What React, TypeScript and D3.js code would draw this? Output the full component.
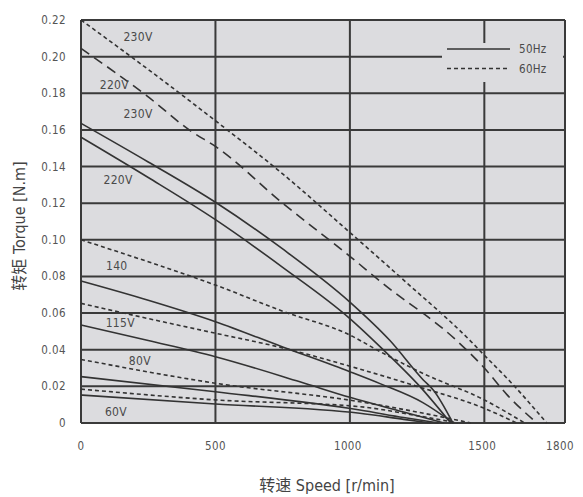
import React from "react";
import * as d3 from "d3";

// ---- data: [speed r/min, torque N.m] ----
const c230v60Hz: [number, number][] = [[0,0.22],[250,0.193],[500,0.165],[750,0.136],[1000,0.104],[1200,0.078],[1447,0.045],[1500,0.037],[1600,0.022],[1732,0]];
const c220v60Hz: [number, number][] = [[0,0.2045],[250,0.178],[412,0.159],[500,0.151],[750,0.12],[1000,0.091],[1124,0.076],[1397,0.045],[1500,0.03],[1584,0.0155],[1695,0]];
const c230v50Hz: [number, number][] = [[0,0.1636],[250,0.1425],[500,0.1205],[750,0.095],[1000,0.066],[1149,0.045],[1273,0.0235],[1310,0.018],[1383,0]];
const c220v50Hz: [number, number][] = [[0,0.156],[250,0.134],[500,0.111],[750,0.085],[1000,0.057],[1112,0.0417],[1260,0.02],[1375,0]];
const c140v60Hz: [number, number][] = [[0,0.1],[250,0.088],[500,0.0753],[750,0.061],[1000,0.048],[1112,0.039],[1273,0.027],[1500,0.0126],[1650,0]];
const c140v50Hz: [number, number][] = [[0,0.0775],[250,0.067],[500,0.0553],[750,0.0415],[1000,0.028],[1112,0.0215],[1273,0.011],[1385,0]];
const c115v60Hz: [number, number][] = [[0,0.0653],[250,0.057],[500,0.049],[750,0.041],[1000,0.031],[1250,0.02],[1500,0.008],[1620,0]];
const c115v50Hz: [number, number][] = [[0,0.0535],[250,0.045],[500,0.0362],[814,0.0225],[1000,0.014],[1200,0.006],[1350,0]];
const c80v60Hz: [number, number][] = [[0,0.0347],[500,0.0217],[1037,0.0116],[1250,0.006],[1450,0]];
const c80v50Hz: [number, number][] = [[0,0.0253],[500,0.0171],[1037,0.0071],[1200,0.003],[1330,0]];
const c60v60Hz: [number, number][] = [[0,0.0185],[500,0.0126],[1037,0.0089],[1250,0.004],[1400,0]];
const c60v50Hz: [number, number][] = [[0,0.0153],[500,0.0104],[1037,0.0053],[1200,0.002],[1300,0]];

const xTicks = [0, 500, 1000, 1500, 1800];
const xTickLabels = ["0", "500", "1000", "1500", "1800"];
const yTicks = [0, 0.02, 0.04, 0.06, 0.08, 0.1, 0.12, 0.14, 0.16, 0.18, 0.2, 0.22];
const yTickLabels = ["0", "0.02", "0.04", "0.06", "0.08", "0.10", "0.12", "0.14", "0.16", "0.18", "0.20", "0.22"];

// voltage labels: [text, speed, torque]
const curveLabels: [string, number, number][] = [
  ["230V", 212, 0.2108],
  ["220V", 124, 0.1845],
  ["230V", 212, 0.1685],
  ["220V", 138, 0.1327],
  ["140", 133, 0.0857],
  ["115V", 146, 0.0548],
  ["80V", 219, 0.0338],
  ["60V", 130, 0.0062],
];

const seriesSolid = [c230v50Hz, c220v50Hz, c140v50Hz, c115v50Hz, c80v50Hz, c60v50Hz];
const seriesShortDash = [c230v60Hz, c140v60Hz, c115v60Hz, c80v60Hz, c60v60Hz];
const seriesLongDash = [c220v60Hz];

const legendItems = ["50Hz", "60Hz"];

export default function App() {
  const W = 583, H = 497;
  const left = 81, right = 565, top = 20, bottom = 423;
  const x = d3.scaleLinear().domain([0, 1800]).range([left, right]);
  const y = d3.scaleLinear().domain([0, 0.22]).range([bottom, top]);
  const line = d3
    .line<[number, number]>()
    .x((d) => x(d[0]))
    .y((d) => y(d[1]))
    .curve(d3.curveMonotoneX);

  const narrow = "'DejaVu Sans Condensed', 'DejaVu Sans', sans-serif";
  const cjk = "'DejaVu Sans Condensed', 'DejaVu Sans', 'Noto Sans CJK SC', sans-serif";
  const grid = "#3a3a3a";
  const curveColor = "#333";
  const bg = "#dcdcdf";
  const cond = { fontStretch: "condensed" } as React.CSSProperties;

  return (
    <svg
      width={W}
      height={H}
      style={{ position: "absolute", left: 0, top: 0, background: "#fff" }}
    >
      <rect x={left} y={top} width={right - left} height={bottom - top} fill={bg} />
      {yTicks.map((t) => (
        <line key={"h" + t} x1={left} x2={right} y1={y(t)} y2={y(t)} stroke={grid} strokeWidth={2} />
      ))}
      {xTicks.map((t) => (
        <line key={"v" + t} x1={x(t)} x2={x(t)} y1={top} y2={bottom} stroke={grid} strokeWidth={2} />
      ))}
      <g fill="none" stroke={curveColor} strokeWidth={1.6}>
        {seriesSolid.map((s, i) => (
          <path key={"s" + i} d={line(s) || ""} />
        ))}
        {seriesShortDash.map((s, i) => (
          <path key={"d" + i} d={line(s) || ""} strokeDasharray="4,3" />
        ))}
        {seriesLongDash.map((s, i) => (
          <path key={"l" + i} d={line(s) || ""} strokeDasharray="10,6" />
        ))}
      </g>
      {curveLabels.map(([t, s, v], i) => (
        <text
          key={"cl" + i}
          x={x(s)}
          y={y(v)}
          textAnchor="middle"
          dominantBaseline="central"
          fontFamily={narrow}
          style={cond}
          fontSize={12}
          letterSpacing={0.3}
          fill="#4a4a4a"
        >
          {t}
        </text>
      ))}
      <rect x={442} y={43} width={121} height={39} fill={bg} />
      {legendItems.map((t, i) => (
        <g key={"lg" + i}>
          <line
            x1={447}
            x2={510}
            y1={49 + i * 19.5}
            y2={49 + i * 19.5}
            stroke={curveColor}
            strokeWidth={1.6}
            strokeDasharray={i === 0 ? undefined : "4,3"}
          />
          <text
            x={519}
            y={49 + i * 19.5}
            dominantBaseline="central"
            fontFamily={narrow}
            style={cond}
            fontSize={11.5}
            letterSpacing={0.3}
            fill="#4a4a4a"
          >
            {t}
          </text>
        </g>
      ))}
      {yTicks.map((t, i) => (
        <text
          key={"yt" + t}
          x={66}
          y={y(t)}
          textAnchor="end"
          dominantBaseline="central"
          fontFamily={narrow}
          style={cond}
          fontSize={11.5}
          letterSpacing={0.4}
          fill="#555"
        >
          {yTickLabels[i]}
        </text>
      ))}
      {xTicks.map((t, i) => (
        <text
          key={"xt" + t}
          x={x(t) - (t >= 1000 ? 2 : 0) - (t === 1800 ? 3 : 0)}
          y={446}
          textAnchor="middle"
          dominantBaseline="central"
          fontFamily={narrow}
          style={cond}
          fontSize={11.5}
          letterSpacing={0.4}
          fill="#555"
        >
          {xTickLabels[i]}
        </text>
      ))}
      <text
        x={327}
        y={485}
        textAnchor="middle"
        dominantBaseline="central"
        fontFamily={cjk}
        style={cond}
        fontSize={16}
        fill="#444"
      >
        转速 Speed [r/min]
      </text>
      <text
        transform={`translate(19,226) rotate(-90)`}
        textAnchor="middle"
        dominantBaseline="central"
        fontFamily={cjk}
        style={cond}
        fontSize={16}
        fill="#444"
      >
        转矩 Torque [N.m]
      </text>
    </svg>
  );
}
